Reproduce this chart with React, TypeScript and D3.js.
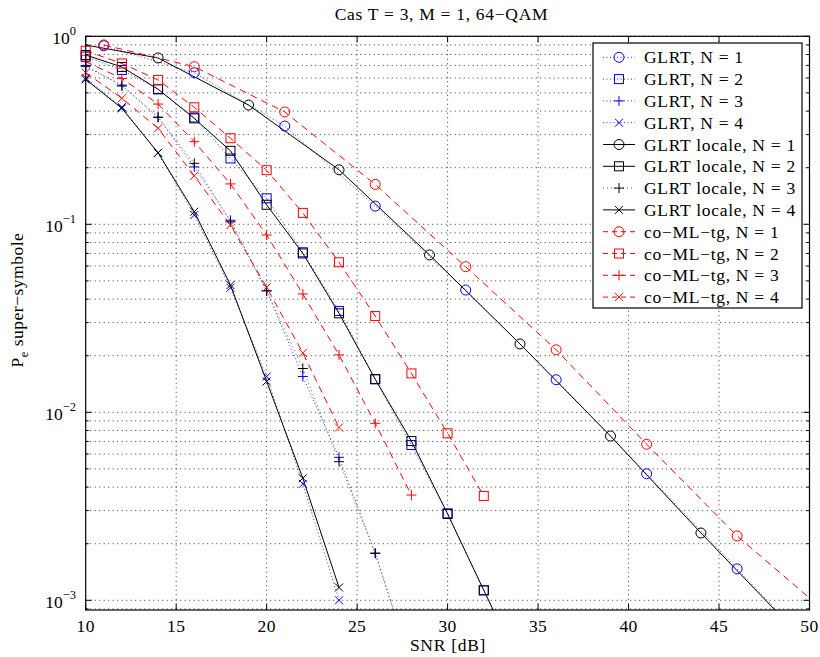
import React from 'react';
import * as d3 from 'd3';

// ---------- data ----------
const xTicks = [10, 15, 20, 25, 30, 35, 40, 45, 50];
const yDecades = [0, -1, -2, -3];

const snrGlrtN1 = [11, 16, 21, 26, 31, 36, 41, 46, 51];
const glrtN1 = [0.89, 0.64, 0.333, 0.125, 0.0447, 0.0149, 0.00471, 0.00147, 0.00046];
const snrLocN1 = [9, 14, 19, 24, 29, 34, 39, 44, 49];
const locN1 = [0.935, 0.767, 0.431, 0.195, 0.0687, 0.0231, 0.00748, 0.00228, 0.00072];
const snrCoN1 = [11, 16, 21, 26, 31, 36, 41, 46, 51];
const coN1 = [0.9, 0.689, 0.396, 0.163, 0.0595, 0.0215, 0.00676, 0.0022, 0.00085];

const snrN2 = [10, 12, 14, 16, 18, 20, 22, 24, 26, 28, 30, 32, 34];
const glrtN2 = [0.78, 0.662, 0.523, 0.37, 0.224, 0.1375, 0.071, 0.0346, 0.015, 0.0067, 0.0029, 0.00113, 0.00045];
const locN2 = [0.795, 0.687, 0.523, 0.366, 0.246, 0.127, 0.07, 0.0336, 0.015, 0.00703, 0.00288, 0.00113, 0.00045];
const snrCoN2 = [10, 12, 14, 16, 18, 20, 22, 24, 26, 28, 30, 32];
const coN2 = [0.838, 0.717, 0.586, 0.419, 0.287, 0.194, 0.115, 0.0628, 0.0325, 0.0161, 0.00773, 0.00359];

const snrN3 = [10, 12, 14, 16, 18, 20, 22, 24, 26, 28];
const glrtN3 = [0.69, 0.55, 0.371, 0.202, 0.105, 0.0443, 0.0155, 0.00576, 0.00178, 0.00045];
const locN3 = [0.7, 0.544, 0.371, 0.211, 0.103, 0.0443, 0.0171, 0.00546, 0.00178, 0.00045];
const coN3 = [0.733, 0.597, 0.436, 0.275, 0.164, 0.0877, 0.0426, 0.0202, 0.00874, 0.00363];

const snrN4 = [10, 12, 14, 16, 18, 20, 22, 24];
const glrtN4 = [0.6, 0.42, 0.24, 0.112, 0.046, 0.0155, 0.00416, 0.001];
const locN4 = [0.59, 0.414, 0.24, 0.1167, 0.0475, 0.0146, 0.00446, 0.00117];
const coN4 = [0.64, 0.468, 0.324, 0.181, 0.0991, 0.0462, 0.0207, 0.0083];

const labels = [
  'GLRT, N = 1', 'GLRT, N = 2', 'GLRT, N = 3', 'GLRT, N = 4',
  'GLRT locale, N = 1', 'GLRT locale, N = 2', 'GLRT locale, N = 3', 'GLRT locale, N = 4',
  'co\u2212ML\u2212tg, N = 1', 'co\u2212ML\u2212tg, N = 2', 'co\u2212ML\u2212tg, N = 3', 'co\u2212ML\u2212tg, N = 4',
];

type Marker = 'o' | 's' | '+' | 'x';
type Style = 'dot' | 'solid' | 'dotk' | 'dash';

const series: { xs: number[]; ys: number[]; color: string; marker: Marker; style: Style }[] = [
  { xs: snrGlrtN1, ys: glrtN1, color: '#0000ff', marker: 'o', style: 'dot' },
  { xs: snrN2, ys: glrtN2, color: '#0000ff', marker: 's', style: 'dot' },
  { xs: snrN3, ys: glrtN3, color: '#0000ff', marker: '+', style: 'dot' },
  { xs: snrN4, ys: glrtN4, color: '#0000ff', marker: 'x', style: 'dot' },
  { xs: snrLocN1, ys: locN1, color: '#000000', marker: 'o', style: 'solid' },
  { xs: snrN2, ys: locN2, color: '#000000', marker: 's', style: 'solid' },
  { xs: snrN3, ys: locN3, color: '#000000', marker: '+', style: 'dotk' },
  { xs: snrN4, ys: locN4, color: '#000000', marker: 'x', style: 'solid' },
  { xs: snrCoN1, ys: coN1, color: '#ff0000', marker: 'o', style: 'dash' },
  { xs: snrCoN2, ys: coN2, color: '#ff0000', marker: 's', style: 'dash' },
  { xs: snrN3, ys: coN3, color: '#ff0000', marker: '+', style: 'dash' },
  { xs: snrN4, ys: coN4, color: '#ff0000', marker: 'x', style: 'dash' },
];

const dashOf = (s: Style) =>
  s === 'dot' ? '1,2.5' : s === 'dotk' ? '1,3' : s === 'dash' ? '7,5' : undefined;
const strokeOf = (s: Style, c: string) => (s === 'dotk' ? '#666' : s === 'dot' ? '#3030ff' : c);

function MarkerShape({ m, cx, cy, color }: { m: Marker; cx: number; cy: number; color: string }) {
  const p = { stroke: color, strokeWidth: 1, fill: 'none' };
  if (m === 'o') return <circle cx={cx} cy={cy} r={5} {...p} />;
  if (m === 's') return <rect x={cx - 4.5} y={cy - 4.5} width={9} height={9} {...p} />;
  if (m === '+')
    return <path d={`M${cx - 5},${cy}H${cx + 5}M${cx},${cy - 5}V${cy + 5}`} {...p} />;
  return <path d={`M${cx - 4},${cy - 4}L${cx + 4},${cy + 4}M${cx - 4},${cy + 4}L${cx + 4},${cy - 4}`} {...p} />;
}

export default function App() {
  const L = 85.7, R = 809.5, T = 36.3, B = 610;
  const x = d3.scaleLinear().domain([10, 50]).range([L, R]);
  const y = d3.scaleLog().domain([8.88e-4, 1]).range([B, T]);
  const line = d3.line<[number, number]>().x(d => x(d[0])).y(d => y(d[1]));
  const font = '"Liberation Serif", "DejaVu Serif", serif';

  const minorY: number[] = [];
  for (let e = -4; e <= 0; e++) for (let k = 1; k <= 9; k++) {
    const v = k * Math.pow(10, e);
    if (v >= 8.88e-4 && v <= 1) minorY.push(v);
  }

  const legX = 593, legY = 43, legW = 209, legH = 265;
  const row0 = 57.3, rowH = 21.8;

  return (
    <svg width={820} height={657} style={{ position: 'absolute', left: 0, top: 0, background: '#fff' }} fontFamily={font}>
      <defs>
        <clipPath id="plot"><rect x={L} y={T} width={R - L} height={B - T} /></clipPath>
      </defs>
      <rect x={0} y={0} width={820} height={657} fill="#fff" />
      {/* grid */}
      <g stroke="#000" strokeWidth={0.8} strokeDasharray="1,3.5">
        {xTicks.slice(1, -1).map(t => <line key={'gx' + t} x1={x(t)} x2={x(t)} y1={T} y2={B} />)}
        {minorY.map(v => <line key={'gy' + v} x1={L} x2={R} y1={y(v)} y2={y(v)} />)}
      </g>
      {/* ticks */}
      <g stroke="#000" strokeWidth={1}>
        {xTicks.map(t => (
          <g key={'tx' + t}>
            <line x1={x(t)} x2={x(t)} y1={B} y2={B - 6} />
            <line x1={x(t)} x2={x(t)} y1={T} y2={T + 6} />
          </g>
        ))}
        {minorY.map(v => {
          const major = Math.abs(Math.log10(v) - Math.round(Math.log10(v))) < 1e-9;
          const len = major ? 6 : 3;
          return (
            <g key={'ty' + v}>
              <line x1={L} x2={L + len} y1={y(v)} y2={y(v)} />
              <line x1={R} x2={R - len} y1={y(v)} y2={y(v)} />
            </g>
          );
        })}
      </g>
      {/* series */}
      <g clipPath="url(#plot)">
        {series.map((s, i) => (
          <path key={'l' + i}
            d={line(s.xs.map((v, j) => [v, s.ys[j]] as [number, number])) || ''}
            fill="none" stroke={strokeOf(s.style, s.color)} strokeWidth={1}
            strokeDasharray={dashOf(s.style)} />
        ))}
      </g>
      <g>
        {series.map((s, i) =>
          s.xs.map((v, j) => {
            if (v < 10 || v > 50 || s.ys[j] < 8.88e-4) return null;
            return <MarkerShape key={'m' + i + '_' + j} m={s.marker} cx={x(v)} cy={y(s.ys[j])} color={s.color} />;
          })
        )}
      </g>
      {/* axes box */}
      <rect x={L} y={T} width={R - L} height={B - T} fill="none" stroke="#000" strokeWidth={1.2} />
      {/* x tick labels */}
      {xTicks.map(t => (
        <text key={'xl' + t} x={x(t)} y={632} fontSize={17.5} textAnchor="middle" letterSpacing={0.4}>{t}</text>
      ))}
      {/* y tick labels */}
      {yDecades.map(e => (
        <text key={'yl' + e} x={76} y={y(Math.pow(10, e)) + 7.5} fontSize={17.5} textAnchor="end">
          10<tspan dy={-9} fontSize={12.5}>{e === 0 ? '0' : '\u2212' + Math.abs(e)}</tspan>
        </text>
      ))}
      {/* title and labels */}
      <text x={441.5} y={20} fontSize={17.5} textAnchor="middle" letterSpacing={0.7}>Cas T = 3, M = 1, 64{'\u2212'}QAM</text>
      <text x={448} y={651} fontSize={17.5} textAnchor="middle" letterSpacing={0.7}>SNR [dB]</text>
      <text transform="translate(23,300) rotate(-90)" fontSize={17.5} textAnchor="middle" letterSpacing={0.5}>
        P<tspan dy={5} fontSize={12.5}>e</tspan><tspan dy={-5}> super{'\u2212'}symbole</tspan>
      </text>
      {/* legend */}
      <rect x={legX} y={legY} width={legW} height={legH} fill="#fff" stroke="#000" strokeWidth={1.2} />
      {series.map((s, i) => {
        const cy = row0 + i * rowH;
        return (
          <g key={'lg' + i}>
            <line x1={603} x2={635} y1={cy} y2={cy} stroke={strokeOf(s.style, s.color)} strokeWidth={1}
              strokeDasharray={s.style === 'dash' ? '5,4' : dashOf(s.style)} />
            <MarkerShape m={s.marker} cx={619} cy={cy} color={s.color} />
            <text x={644} y={cy + 6} fontSize={17.5} letterSpacing={0.7}>{labels[i]}</text>
          </g>
        );
      })}
    </svg>
  );
}
